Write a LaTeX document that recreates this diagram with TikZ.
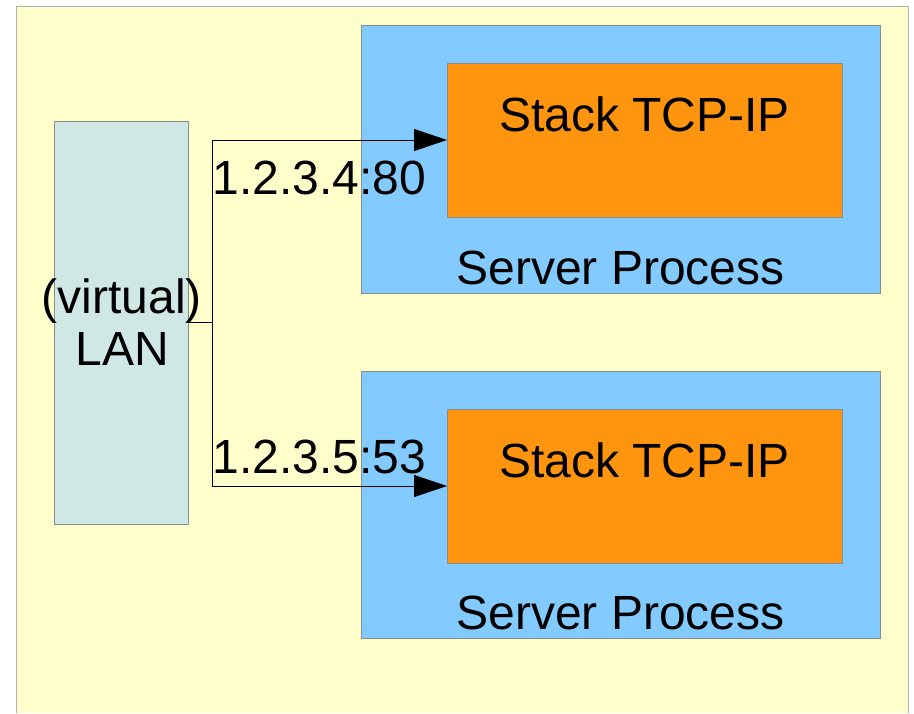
\documentclass[tikz,border=0pt]{standalone}
\usepackage{fontspec}
\setmainfont{Liberation Sans}
\usetikzlibrary{arrows.meta,positioning}
\definecolor{bgyellow}{HTML}{FFFFCC}
\definecolor{lanblue}{HTML}{CFE7E5}
\definecolor{procblue}{HTML}{83CAFF}
\definecolor{stackorange}{HTML}{FF950E}
\definecolor{edgegray}{HTML}{8C8C8C}
\begin{document}
\begin{tikzpicture}[x=1pt,y=-1pt,
    box/.style={draw=edgegray,line width=1pt,inner sep=0pt,outer sep=0pt},
    big/.style={font=\fontsize{48}{52}\selectfont,inner sep=0pt},
    link/.style={draw=black,line width=0.9pt,-{Triangle[length=33pt,width=22pt]}}]
    \useasboundingbox (0,0) rectangle (914,713);
    \fill[bgyellow] (16,6) rectangle (908,713);
    \draw[black!30] (16,713) -- (16,6) -- (908,6) -- (908,713);

    \node[box,fill=lanblue,minimum width=134pt,minimum height=403pt] (lan) at (121,322.5) {};
    \node[big,align=center] (lantxt) at ([xshift=1pt]lan.center) {(virtual)\\LAN};

    \node[box,fill=procblue,minimum width=519pt,minimum height=268pt] (proc1) at (620.5,159) {};
    \node[box,fill=procblue,minimum width=519pt,minimum height=267pt] (proc2) at (620.5,504.5) {};
    \node[box,fill=stackorange,minimum width=395pt,minimum height=154pt] (stack1) at (644.5,140) {};
    \node[box,fill=stackorange,minimum width=395pt,minimum height=154pt] (stack2) at (644.5,486) {};

    \node[big,anchor=base] (stacktxt1) at ([yshift=-68pt]stack1.north) {Stack TCP-IP};
    \node[big,anchor=base] (stacktxt2) at ([yshift=-68pt]stack2.north) {Stack TCP-IP};
    \node[big,anchor=base] (srvtxt1) at ([yshift=9pt]proc1.south) {Server Process};
    \node[big,anchor=base] (srvtxt2) at ([yshift=9pt]proc2.south) {Server Process};

    \coordinate (split) at ([xshift=24pt]lan.east);
    \draw[link] (lan.east) -- (split) |- (stack1.west);
    \draw[link] (lan.east) -- (split) |- (stack2.west);

    \node[big,anchor=base west] (port1) at (212.5,194) {1.2.3.4:80};
    \node[big,anchor=base west] (port2) at (212.5,473) {1.2.3.5:53};
\end{tikzpicture}
\end{document}
